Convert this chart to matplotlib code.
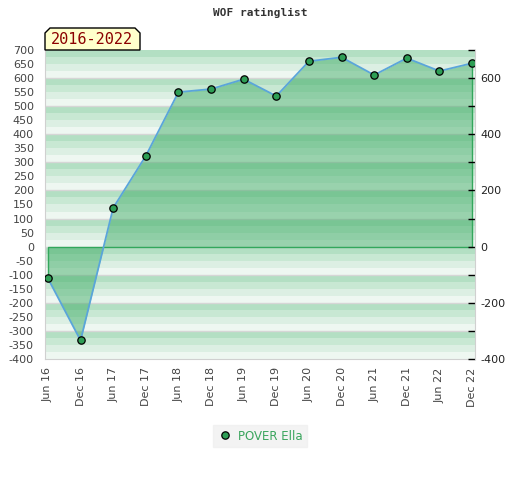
import matplotlib
matplotlib.use("Agg")
import matplotlib.pyplot as plt
from matplotlib.patches import Polygon
from matplotlib.ticker import MultipleLocator

plt.rcParams["axes.unicode_minus"] = False

# rating per half year
labels = ["Jun 16", "Dec 16", "Jun 17", "Dec 17", "Jun 18", "Dec 18", "Jun 19",
          "Dec 19", "Jun 20", "Dec 20", "Jun 21", "Dec 21", "Jun 22", "Dec 22"]
rating = [-113, -334, 138, 323, 550, 561, 596, 536, 660, 674, 611, 671, 625, 653]
player = "POVER Ella"
period = "2016-2022"

band_colors = ["#b3dfc3", "#c8e8d3", "#dcefe3", "#eef7f1"]
fill_green = "#33a75c"

fig = plt.figure(figsize=(5.2, 4.8), dpi=100)
ax = fig.add_axes([45/520, 1-359/480, 430/520, 309/480])
x = list(range(len(labels)))

ax.set_ylim(-400, 700)
ax.set_xlim(-0.09, len(labels) - 1 + 0.09)

# striped background, 4 shades per 100
top = 700
i = 0
while top > -400:
    ax.axhspan(top - 25, top, color=band_colors[i % 4], lw=0, zorder=0)
    top -= 25
    i += 1
for g in range(-300, 700, 100):
    ax.axhline(g, color="#d6d6d6", lw=1, zorder=1)

ax.fill_between(x, rating, 0, color=fill_green, alpha=0.45, lw=0, zorder=2)
ax.plot([x[0], x[0], x[-1], x[-1]], [rating[0], 0, 0, rating[-1]],
        color=fill_green, lw=1, zorder=3)
ax.plot(x, rating, color="#5aa5da", lw=1.3, zorder=4)
ax.plot(x, rating, "o", ms=5.3, mfc="#2e9e55", mec="black", mew=0.9, zorder=5,
        label=player)

ax.set_yticks(range(-400, 701, 50))
ax.tick_params(axis="y", length=0, labelsize=8, labelcolor="#444444", pad=8)
ax.set_xticks(x)
ax.set_xticklabels(labels, rotation=90)
ax.tick_params(axis="x", length=0, labelsize=8, labelcolor="#444444", pad=6)
for s in ["top", "right"]:
    ax.spines[s].set_visible(False)
for s in ["left", "bottom"]:
    ax.spines[s].set_color("#d0d0d0")

ax2 = ax.twinx()
ax2.set_ylim(ax.get_ylim())
ax2.set_yticks(range(-400, 601, 200))
ax2.yaxis.set_minor_locator(MultipleLocator(100))
ax2.tick_params(axis="y", which="both", direction="in", length=5, width=1,
                labelsize=8, labelcolor="#222222", pad=4)
for s in ["top", "left", "bottom"]:
    ax2.spines[s].set_visible(False)
ax2.spines["right"].set_color("#d0d0d0")

fig.text(0.5, 1-13/480, "WOF ratinglist", ha="center", va="center",
         family="DejaVu Sans Mono", weight="bold", fontsize=8, color="#333333")

# period tag with cut corners
bx0, bx1, by0, by1, c = 45, 140, 50, 28, 5
pts = [(bx0, by0), (bx0, by1 + c), (bx0 + c, by1), (bx1 - c, by1),
       (bx1, by1 + c), (bx1, by0)]
pts = [(px/520, 1 - py/480) for px, py in pts]
fig.patches.append(Polygon(pts, closed=True, transform=fig.transFigure,
                           facecolor="#ffffcc", edgecolor="black", lw=1))
fig.text(92/520, 1-40/480, period, ha="center", va="center",
         family="DejaVu Sans Mono", fontsize=11, color="#8b0000")

leg = fig.legend(loc="center", bbox_to_anchor=(260/520, 1-436/480), frameon=True,
                 fontsize=8.5, handletextpad=0.5, handlelength=1.2,
                 borderpad=0.4, fancybox=False)
leg.get_frame().set_facecolor("#f0f0f0")
leg.get_frame().set_edgecolor("#f0f0f0")
for t in leg.get_texts():
    t.set_color("#3aa55d")

fig.savefig("out.png", dpi=100)
